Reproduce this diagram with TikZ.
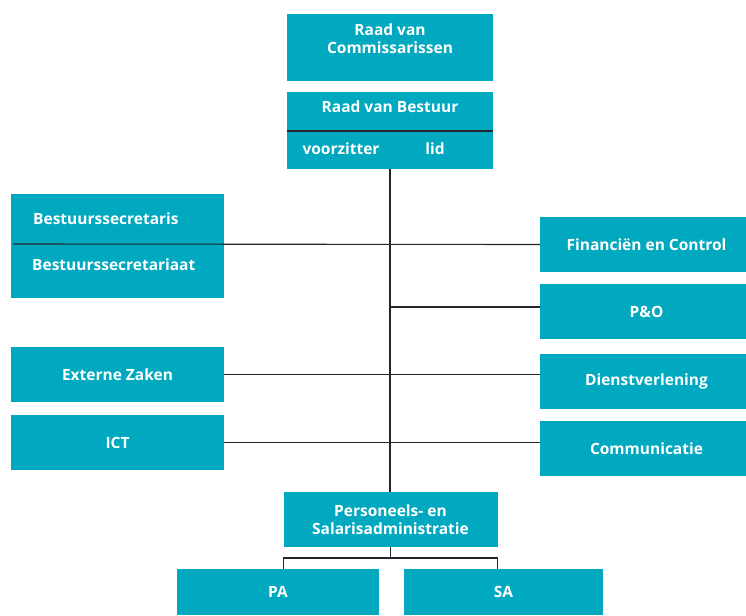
\documentclass[tikz,border=0pt]{standalone}
\usepackage{fontspec}
\setmainfont{Open Sans}
\usetikzlibrary{positioning}
\definecolor{orgteal}{RGB}{0,169,191}
\definecolor{linegray}{RGB}{35,38,45}

\begin{document}
\begin{tikzpicture}[
    x=1pt, y=-1pt,
    box/.style={fill=orgteal, inner sep=0pt, outer sep=0pt, text=white, align=center,
        font=\bfseries\fontsize{15.5}{18}\selectfont},
    lbl/.style={inner sep=0pt, text=white, align=center,
        font=\bfseries\fontsize{15.5}{18}\selectfont},
    conn/.style={draw=linegray, line width=1.1pt}
]
\useasboundingbox (0,0) rectangle (746,615);

% Board
\node[box, minimum width=206pt, minimum height=67pt] (rvc) at (390,47.5) {};
\node[lbl] (rvcname) at (390,39) {Raad van\\Commissarissen};
\node[box, minimum width=206pt, minimum height=77pt, below=11pt of rvc] (rvb) {};
\node[lbl] (rvbname) at (390,107) {Raad van Bestuur};
\node[lbl] (chair) at (341,149) {voorzitter};
\node[lbl] (member) at (435,149) {lid};

% Staff, left
\node[box, minimum width=213pt, minimum height=104pt] (bsec) at (117.5,246) {};
\node[lbl, anchor=west] (bsecr) at (33,219) {Bestuurssecretaris};
\node[lbl, anchor=west] (bsecs) at (32,265) {Bestuurssecretariaat};
\node[box, minimum width=213pt, minimum height=55pt] (ext) at (117.5,374.5) {Externe Zaken};
\node[box, minimum width=213pt, minimum height=55pt, below=13pt of ext] (ict) {ICT};

% Staff, right
\node[box, minimum width=213pt, minimum height=55pt] (fin) at (646.5,244.5) {Financiën en Control};
\node[box, minimum width=213pt, minimum height=55pt, below=12pt of fin] (po) {P\&O};
\node[box, minimum width=213pt, minimum height=55pt, below=15pt of po] (dienst) {Dienstverlening};
\node[box, minimum width=213pt, minimum height=55pt, below=12pt of dienst] (comm) {Communicatie};

% Administration
\node[box, minimum width=214pt, minimum height=55pt] (pers) at (390.5,519.5) {Personeels- en\\Salarisadministratie};
\node[box, minimum width=202pt, minimum height=46pt] (pa) at (278,592) {PA};
\node[box, minimum width=199pt, minimum height=46pt] (sa) at (503.5,592) {SA};

% Dividers
\draw[conn] ([yshift=-39pt]rvb.north west) -- ([yshift=-39pt]rvb.north east);

% Lines
\draw[conn] (rvb.south) -- (rvb.south |- pers.north);
\draw[conn] ([xshift=2pt,yshift=-50pt]bsec.north west) -- (fin.west);
\draw[conn] (rvb.south |- po.west) ++(0,-4.5) -- ([yshift=4.5pt]po.west);
\draw[conn] (ext.east) -- (ext.east -| dienst.west);
\draw[conn] (ict.east) -- (ict.east -| comm.west);
\coordinate (fork) at ([yshift=-11pt]pers.south);
\draw[conn] (pers.south) -- (fork);
\draw[conn] (pers.west |- pa.north) |- (fork) -| (pers.east |- sa.north);

\end{tikzpicture}
\end{document}
